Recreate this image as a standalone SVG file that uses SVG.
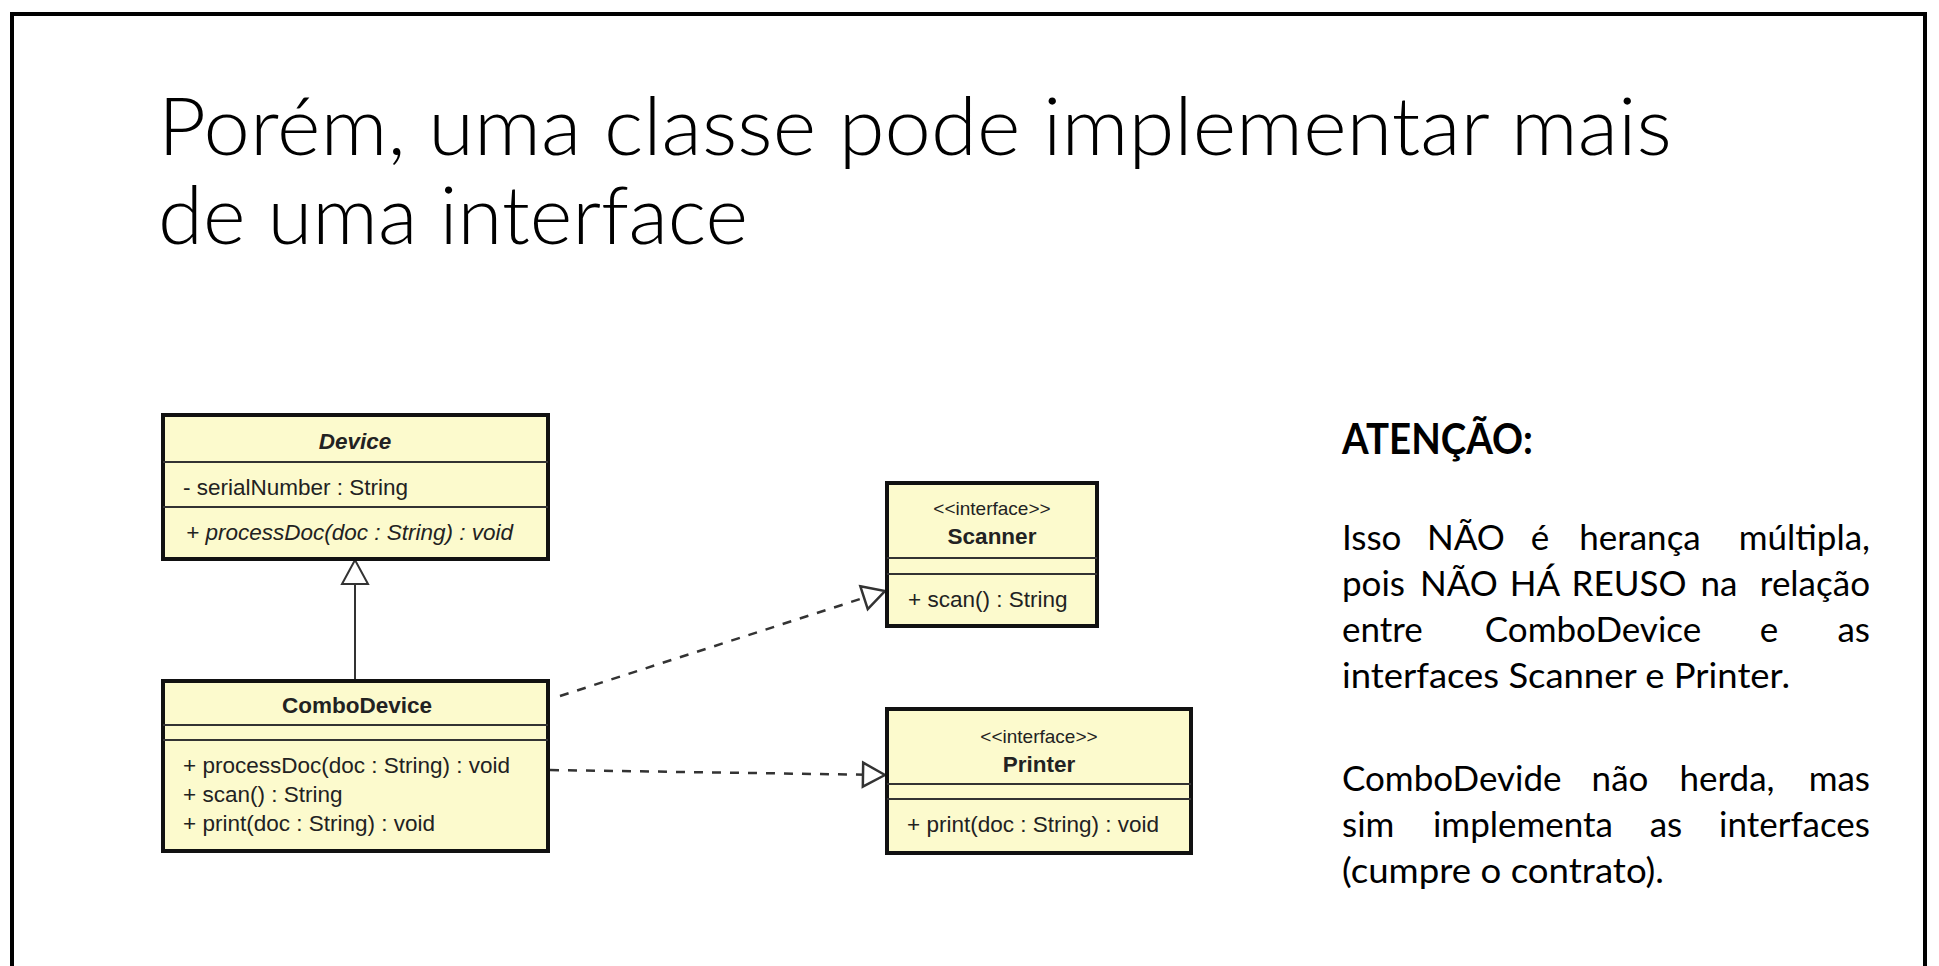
<svg xmlns="http://www.w3.org/2000/svg" width="1939" height="966" viewBox="0 0 1939 966">
  <style>
    .title { font-family: Lato, "Open Sans", "Liberation Sans", sans-serif; font-weight: 300; font-size: 80px; fill: #000; }
    .head { font-family: Lato, "Liberation Sans", sans-serif; font-weight: 700; font-size: 42px; fill: #000; }
    .body { font-family: Lato, "Liberation Sans", sans-serif; font-size: 35px; fill: #000; }
    .m { text-anchor: middle; }
    .e { text-anchor: end; }
    .box { fill: #FCFACD; stroke: #111; stroke-width: 4; }
    .div { stroke: #333; stroke-width: 2; }
    .uml { font-family: "Liberation Sans", Arial, sans-serif; font-size: 22.5px; fill: #222; }
    .name { font-weight: 700; text-anchor: middle; }
    .stereo { font-size: 19px; text-anchor: middle; }
    .it { font-style: italic; }
    .gen { stroke: #333; stroke-width: 2; fill: none; }
    .real { stroke: #333; stroke-width: 2.5; fill: none; stroke-dasharray: 9 9; }
  </style>
  <defs>
    <marker id="hollowTri" viewBox="-28 -16 30 32" refX="0" refY="0" markerWidth="30" markerHeight="32" markerUnits="userSpaceOnUse" orient="auto">
      <path d="M-24,-13 L0,0 L-24,13 Z" fill="#fff" stroke="#333" stroke-width="2"/>
    </marker>
    <marker id="realTri" viewBox="-26 -15 28 30" refX="0" refY="0" markerWidth="28" markerHeight="30" markerUnits="userSpaceOnUse" orient="auto">
      <path d="M-22,-12 L0,0 L-22,12 Z" fill="#fff" stroke="#333" stroke-width="2.5"/>
    </marker>
  </defs>

  <rect width="1939" height="966" fill="#fff"/>
  <!-- slide frame, open at the bottom -->
  <path d="M12,966 V14 H1925 V966" fill="none" stroke="#000" stroke-width="4"/>

  <!-- title -->
  <text class="title" x="158" y="155" textLength="1514" lengthAdjust="spacingAndGlyphs">Porém, uma classe pode implementar mais</text>
  <text class="title" x="158" y="244" textLength="590" lengthAdjust="spacingAndGlyphs">de uma interface</text>

  <!-- connectors -->
  <g id="connectors">
    <line class="gen" x1="355" y1="681" x2="355" y2="560" marker-end="url(#hollowTri)"/>
    <line class="real" x1="560" y1="696" x2="885" y2="591" marker-end="url(#realTri)"/>
    <line class="real" x1="550" y1="770" x2="885" y2="775" marker-end="url(#realTri)"/>
  </g>

  <!-- Device (abstract) -->
  <g id="device">
    <rect class="box" x="163" y="415" width="385" height="144"/>
    <line class="div" x1="163" y1="462" x2="548" y2="462"/>
    <line class="div" x1="163" y1="507" x2="548" y2="507"/>
    <text class="uml name it" x="355" y="449">Device</text>
    <text class="uml" x="183" y="495">- serialNumber : String</text>
    <text class="uml it" x="186" y="540">+ processDoc(doc : String) : void</text>
  </g>

  <!-- ComboDevice -->
  <g id="combodevice">
    <rect class="box" x="163" y="681" width="385" height="170"/>
    <line class="div" x1="163" y1="725" x2="548" y2="725"/>
    <line class="div" x1="163" y1="740" x2="548" y2="740"/>
    <text class="uml name" x="357" y="713">ComboDevice</text>
    <text class="uml" x="183" y="773">+ processDoc(doc : String) : void</text>
    <text class="uml" x="183" y="802">+ scan() : String</text>
    <text class="uml" x="183" y="831">+ print(doc : String) : void</text>
  </g>

  <!-- Scanner interface -->
  <g id="scanner">
    <rect class="box" x="887" y="483" width="210" height="143"/>
    <line class="div" x1="887" y1="558" x2="1097" y2="558"/>
    <line class="div" x1="887" y1="574" x2="1097" y2="574"/>
    <text class="uml stereo" x="992" y="515">&lt;&lt;interface&gt;&gt;</text>
    <text class="uml name" x="992" y="544">Scanner</text>
    <text class="uml" x="908" y="607">+ scan() : String</text>
  </g>

  <!-- Printer interface -->
  <g id="printer">
    <rect class="box" x="887" y="709" width="304" height="144"/>
    <line class="div" x1="887" y1="784" x2="1191" y2="784"/>
    <line class="div" x1="887" y1="799" x2="1191" y2="799"/>
    <text class="uml stereo" x="1039" y="743">&lt;&lt;interface&gt;&gt;</text>
    <text class="uml name" x="1039" y="772">Printer</text>
    <text class="uml" x="907" y="832">+ print(doc : String) : void</text>
  </g>

  <!-- side note; justified lines are set word by word (first word left, last word right, inner words centred) -->
  <g id="note">
    <text class="head" x="1342" y="454" textLength="191" lengthAdjust="spacingAndGlyphs">ATENÇÃO:</text>

    <text class="body" x="1342" y="550">Isso</text>
    <text class="body m" x="1466" y="550">NÃO</text>
    <text class="body m" x="1540" y="550">é</text>
    <text class="body m" x="1640" y="550">herança</text>
    <text class="body e" x="1870" y="550">múltipla,</text>

    <text class="body" x="1342" y="596">pois</text>
    <text class="body m" x="1459" y="596">NÃO</text>
    <text class="body m" x="1535" y="596">HÁ</text>
    <text class="body m" x="1629" y="596">REUSO</text>
    <text class="body m" x="1719" y="596">na</text>
    <text class="body e" x="1870" y="596">relação</text>

    <text class="body" x="1342" y="642">entre</text>
    <text class="body m" x="1593" y="642">ComboDevice</text>
    <text class="body m" x="1769" y="642">e</text>
    <text class="body e" x="1870" y="642">as</text>

    <text class="body" x="1342" y="688" textLength="448" lengthAdjust="spacingAndGlyphs">interfaces Scanner e Printer.</text>

    <text class="body" x="1342" y="791">ComboDevide</text>
    <text class="body m" x="1620" y="791">não</text>
    <text class="body m" x="1727" y="791">herda,</text>
    <text class="body e" x="1870" y="791">mas</text>

    <text class="body" x="1342" y="837">sim</text>
    <text class="body m" x="1523" y="837">implementa</text>
    <text class="body m" x="1666" y="837">as</text>
    <text class="body e" x="1870" y="837">interfaces</text>

    <text class="body" x="1342" y="883" textLength="322" lengthAdjust="spacingAndGlyphs">(cumpre o contrato).</text>
  </g>
</svg>
